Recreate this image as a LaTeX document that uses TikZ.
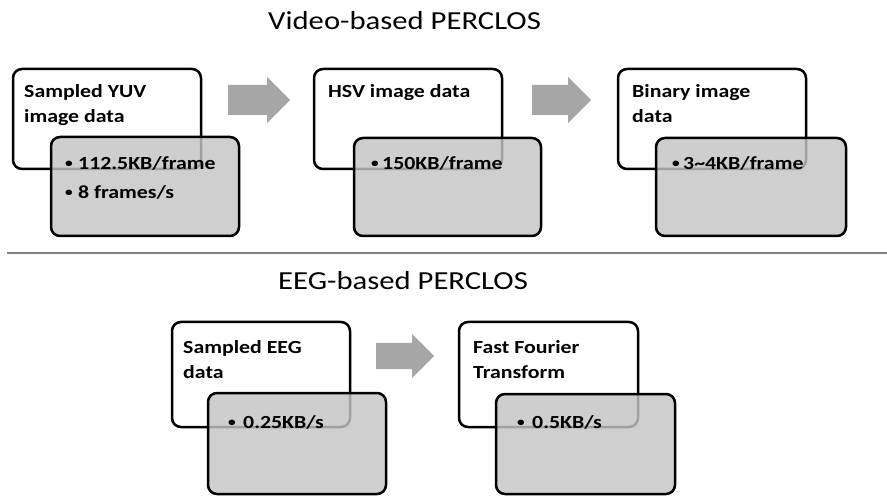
\documentclass[tikz,border=0pt]{standalone}
\usepackage{fontspec}
\setmainfont[FakeStretch=1.18]{Carlito}
\definecolor{boxgray}{HTML}{C4C4C4}
\definecolor{arrowgray}{HTML}{A6A6A6}
\definecolor{sepgray}{HTML}{808080}
\newcommand\myblockarrow[6]{% left, base, tip, centre y, shaft half, head half
  \fill[arrowgray] (#1,#4-#5) -- (#2,#4-#5) -- (#2,#4-#6) -- (#3,#4) -- (#2,#4+#6) -- (#2,#4+#5) -- (#1,#4+#5) -- cycle;}
\begin{document}
\begin{tikzpicture}[x=1pt,y=-1pt,
  whitebox/.style={draw=black, line width=2.5pt, rounded corners=9pt, fill=white, inner sep=0pt},
  graybox/.style={draw=black, line width=2.5pt, rounded corners=9pt, fill=boxgray, fill opacity=0.82, draw opacity=1, inner sep=0pt},
  title/.style={anchor=base west, inner sep=0pt, font=\fontsize{26}{30}\selectfont},
  lab/.style={anchor=base west, inner sep=0pt, font=\bfseries\fontsize{18.5}{25}\selectfont},
  bul/.style={anchor=base west, inner sep=0pt, font=\bfseries\fontsize{13}{25}\selectfont},
  sepline/.style={draw=sepgray, line width=1.5pt}]
\useasboundingbox (0,0) rectangle (887,497);
% titles
\node[title] (t1) at (268,30) {Video-based PERCLOS};
\node[title] (t2) at (278,290) {EEG-based PERCLOS};
% separator
\coordinate (sl) at (7,253);
\coordinate (sr) at (887,253);
\draw[sepline] (sl) -- (sr);
% top row boxes
\node[whitebox, minimum width=188pt, minimum height=100pt] (w1) at (107,119) {};
\node[graybox, minimum width=188pt, minimum height=99pt] (g1) at (145,186.5) {};
\node[whitebox, minimum width=188pt, minimum height=100pt] (w2) at (408,119) {};
\node[graybox, minimum width=187pt, minimum height=98pt] (g2) at (447.5,187) {};
\node[whitebox, minimum width=188pt, minimum height=100pt] (w3) at (712,119) {};
\node[graybox, minimum width=190pt, minimum height=98pt] (g3) at (751,187) {};
% bottom row boxes
\node[whitebox, minimum width=178pt, minimum height=105pt] (w4) at (261,374.5) {};
\node[graybox, minimum width=178pt, minimum height=101pt] (g4) at (297,443.5) {};
\node[whitebox, minimum width=179pt, minimum height=105pt] (w5) at (548.5,374.5) {};
\node[graybox, minimum width=179pt, minimum height=100pt] (g5) at (585.5,444) {};
% arrows
\myblockarrow{228}{267}{290}{100}{15}{23}
\myblockarrow{532}{568}{591}{100}{15}{23}
\myblockarrow{376}{412}{434}{356}{13}{22}
% labels box 1
\node[lab] (l1a) at (24,98) {Sampled YUV};
\node[lab] (l1b) at (24,123) {image data};
\node[bul] (b1a) at (65,168) {•};
\node[lab] (v1a) at (78,170) {112.5KB/frame};
\node[bul] (b1b) at (65,197) {•};
\node[lab] (v1b) at (78,199) {8 frames/s};
% box 2
\node[lab] (l2a) at (328,98) {HSV image data};
\node[bul] (b2a) at (371,168) {•};
\node[lab] (v2a) at (382,170) {150KB/frame};
% box 3
\node[lab] (l3a) at (632,98) {Binary image};
\node[lab] (l3b) at (632,123) {data};
\node[bul] (b3a) at (672,168) {•};
\node[lab] (v3a) at (683,170) {3\textasciitilde 4KB/frame};
% box 4
\node[lab] (l4a) at (183,353) {Sampled EEG};
\node[lab] (l4b) at (183,378) {data};
\node[bul] (b4a) at (228,426) {•};
\node[lab] (v4a) at (243,428) {0.25KB/s};
% box 5
\node[lab] (l5a) at (473,353) {Fast Fourier};
\node[lab] (l5b) at (473,378) {Transform};
\node[bul] (b5a) at (517,426) {•};
\node[lab] (v5a) at (532,428) {0.5KB/s};
\end{tikzpicture}
\end{document}
